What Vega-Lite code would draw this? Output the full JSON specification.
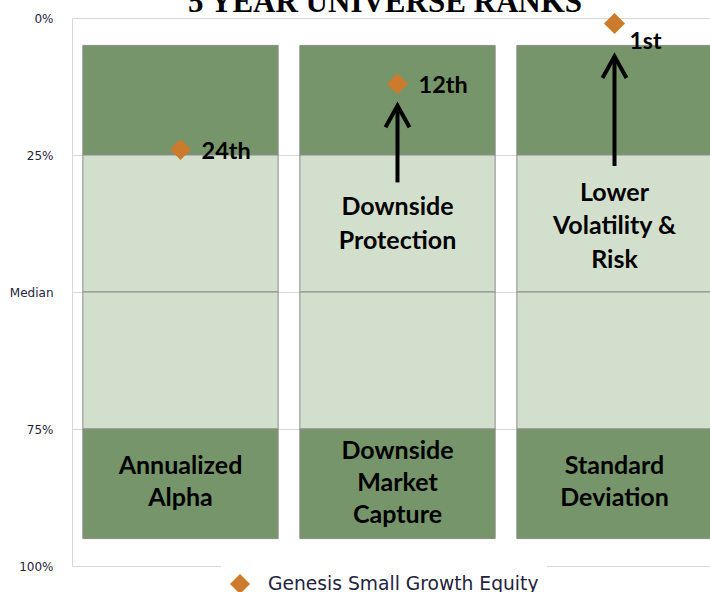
{
  "$schema": "https://vega.github.io/schema/vega-lite/v6.json",
  "width": 638,
  "height": 548,
  "autosize": {"type": "none"},
  "padding": {"left": 72, "top": 18, "right": 0, "bottom": 26},
  "background": "white",
  "title": {"text": "5 YEAR UNIVERSE RANKS", "font": "Liberation Serif", "fontSize": 31, "fontWeight": "bold", "color": "black", "anchor": "middle", "frame": "group", "baseline": "alphabetic", "offset": -31, "dx": -6},
  "config": {"view": {"stroke": null}},
  "datasets": {
    "segments": [
      {"cat": "Annualized Alpha", "lo": 5, "hi": 25, "zone": "outer"},
      {"cat": "Annualized Alpha", "lo": 25, "hi": 50, "zone": "inner"},
      {"cat": "Annualized Alpha", "lo": 50, "hi": 75, "zone": "inner"},
      {"cat": "Annualized Alpha", "lo": 75, "hi": 95, "zone": "outer"},
      {"cat": "Downside Market Capture", "lo": 5, "hi": 25, "zone": "outer"},
      {"cat": "Downside Market Capture", "lo": 25, "hi": 50, "zone": "inner"},
      {"cat": "Downside Market Capture", "lo": 50, "hi": 75, "zone": "inner"},
      {"cat": "Downside Market Capture", "lo": 75, "hi": 95, "zone": "outer"},
      {"cat": "Standard Deviation", "lo": 5, "hi": 25, "zone": "outer"},
      {"cat": "Standard Deviation", "lo": 25, "hi": 50, "zone": "inner"},
      {"cat": "Standard Deviation", "lo": 50, "hi": 75, "zone": "inner"},
      {"cat": "Standard Deviation", "lo": 75, "hi": 95, "zone": "outer"}
    ],
    "ranks": [
      {"cat": "Annualized Alpha", "rank": 24, "label": "24th", "series": "Genesis Small Growth Equity"},
      {"cat": "Downside Market Capture", "rank": 12, "label": "12th", "series": "Genesis Small Growth Equity"},
      {"cat": "Standard Deviation", "rank": 1, "label": "1st", "series": "Genesis Small Growth Equity"}
    ],
    "arrows": [
      {"cat": "Downside Market Capture", "from": 30, "to": 16},
      {"cat": "Standard Deviation", "from": 27, "to": 7}
    ],
    "catlabels": [
      {"cat": "Annualized Alpha", "pos": 81.75, "text": "Annualized\nAlpha"},
      {"cat": "Downside Market Capture", "pos": 79, "text": "Downside\nMarket\nCapture"},
      {"cat": "Standard Deviation", "pos": 81.75, "text": "Standard\nDeviation"}
    ],
    "notes": [
      {"cat": "Downside Market Capture", "pos": 34.5, "text": "Downside\nProtection"},
      {"cat": "Standard Deviation", "pos": 31.9, "text": "Lower\nVolatility &\nRisk"}
    ]
  },
  "encoding": {
    "x": {"field": "cat", "type": "nominal", "axis": null,
      "scale": {"domain": ["Annualized Alpha", "Downside Market Capture", "Standard Deviation"], "range": [0, 651], "paddingInner": 0.1, "paddingOuter": 0.05}}
  },
  "layer": [
    {
      "data": {"name": "segments"},
      "mark": {"type": "bar", "stroke": "#8c8c8c", "strokeWidth": 1},
      "encoding": {
        "y": {"field": "lo", "type": "quantitative", "scale": {"domain": [0, 100], "reverse": true, "nice": false},
          "axis": {"values": [0, 25, 50, 75, 100], "labelExpr": "datum.value == 50 ? 'Median' : datum.value + '%'", "ticks": false, "domain": true, "domainColor": "#d9d9d9", "grid": true, "gridColor": "#d9d9d9", "labelPadding": 19, "labelFont": "DejaVu Sans", "labelFontSize": 12, "labelColor": "#1f2440", "title": null}},
        "y2": {"field": "hi"},
        "color": {"field": "zone", "type": "nominal", "scale": {"domain": ["outer", "inner"], "range": ["#76956a", "#d3dfcd"]}, "legend": null}
      }
    },
    {
      "data": {"name": "arrows"},
      "mark": {"type": "rule", "color": "black", "strokeWidth": 4},
      "encoding": {
        "y": {"field": "from", "type": "quantitative", "scale": {"domain": [0, 100], "reverse": true, "nice": false}},
        "y2": {"field": "to"}
      }
    },
    {
      "data": {"name": "arrows"},
      "mark": {"type": "point", "shape": "M-1,1.8L0,0L1,1.8", "filled": false, "stroke": "black", "strokeWidth": 4, "size": 576, "opacity": 1},
      "encoding": {
        "y": {"field": "to", "type": "quantitative", "scale": {"domain": [0, 100], "reverse": true, "nice": false}}
      }
    },
    {
      "data": {"name": "ranks"},
      "mark": {"type": "point", "shape": "diamond", "filled": true, "size": 440, "opacity": 1},
      "encoding": {
        "y": {"field": "rank", "type": "quantitative", "scale": {"domain": [0, 100], "reverse": true, "nice": false}},
        "fill": {"field": "series", "type": "nominal", "scale": {"range": ["#cc7a2b"]},
          "legend": {"orient": "none", "legendX": 149, "legendY": 547, "title": null, "padding": 8, "fillColor": "white", "symbolType": "diamond", "symbolSize": 400, "labelFont": "DejaVu Sans", "labelFontSize": 18.7, "labelLimit": 0, "labelColor": "#1f2440", "labelOffset": 17}}
      }
    },
    {
      "data": {"name": "ranks"},
      "transform": [{"filter": "datum.rank > 1"}],
      "mark": {"type": "text", "align": "left", "baseline": "middle", "dx": 21, "dy": 2, "font": "Lato", "fontWeight": "bold", "fontSize": 23.5, "color": "black"},
      "encoding": {
        "y": {"field": "rank", "type": "quantitative", "scale": {"domain": [0, 100], "reverse": true, "nice": false}},
        "text": {"field": "label"}
      }
    },
    {
      "data": {"name": "ranks"},
      "transform": [{"filter": "datum.rank == 1"}],
      "mark": {"type": "text", "align": "left", "baseline": "middle", "dx": 15, "dy": 19, "font": "Lato", "fontWeight": "bold", "fontSize": 23, "color": "black"},
      "encoding": {
        "y": {"field": "rank", "type": "quantitative", "scale": {"domain": [0, 100], "reverse": true, "nice": false}},
        "text": {"field": "label"}
      }
    },
    {
      "data": {"name": "catlabels"},
      "mark": {"type": "text", "align": "center", "baseline": "middle", "lineBreak": "\n", "lineHeight": 32, "font": "Lato", "fontWeight": "bold", "fontSize": 25, "color": "black"},
      "encoding": {
        "y": {"field": "pos", "type": "quantitative", "scale": {"domain": [0, 100], "reverse": true, "nice": false}},
        "text": {"field": "text"}
      }
    },
    {
      "data": {"name": "notes"},
      "mark": {"type": "text", "align": "center", "baseline": "middle", "lineBreak": "\n", "lineHeight": 33.5, "font": "Lato", "fontWeight": "bold", "fontSize": 25, "color": "black"},
      "encoding": {
        "y": {"field": "pos", "type": "quantitative", "scale": {"domain": [0, 100], "reverse": true, "nice": false}},
        "text": {"field": "text"}
      }
    }
  ]
}
